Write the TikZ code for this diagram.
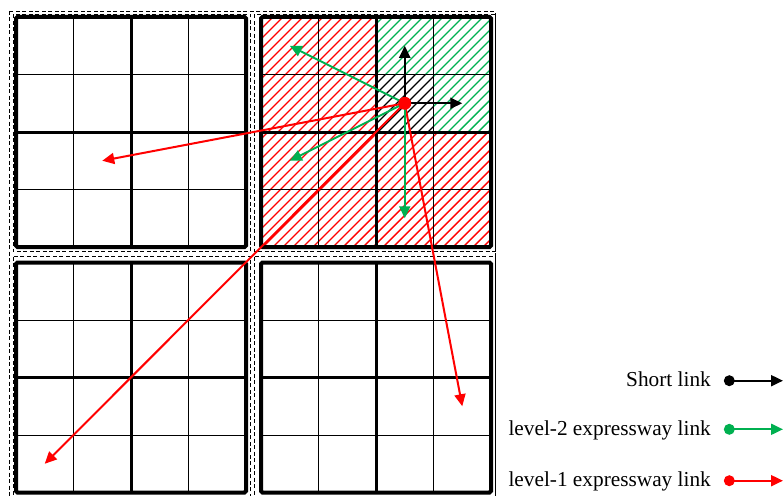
\documentclass[tikz,border=0pt]{standalone}
\usepackage{fontspec}
\setmainfont{Liberation Serif}
\usetikzlibrary{arrows.meta}
\definecolor{xgreen}{RGB}{0,176,80}
\definecolor{xred}{RGB}{255,0,0}
\newcommand\hatchregion[5]{%
  \begin{scope}
    \clip (#2,#3) rectangle (#4,#5);
    \foreach \c in {270,280,...,750} \draw[#1, line width=1.4pt] (\c,0) -- ++(-300,300);
  \end{scope}}
\begin{document}
\begin{tikzpicture}[x=1pt,y=-1pt,
  thingrid/.style={line width=1pt, black},
  midgrid/.style={line width=3pt, black},
  border/.style={line width=4pt, black, rounded corners=1.5pt},
  panelbox/.style={line width=0.8pt, black, dash pattern=on 4pt off 2.5pt},
  link/.style={line width=2pt, -{Triangle[length=12pt,width=11pt]}},
  dotstyle/.style={circle, inner sep=0pt, minimum size=#1},
  legtext/.style={anchor=base east, inner sep=0pt, font=\fontsize{21.3}{25}\selectfont}]
\useasboundingbox (0,0) rectangle (783,495);

% hatching in the top-right panel
\hatchregion{xred}{261}{17}{376}{132}
\hatchregion{xred}{261}{132}{491}{247}
\hatchregion{xgreen}{376}{17}{491}{74.5}
\hatchregion{xgreen}{433.5}{74.5}{491}{132}
\hatchregion{black}{376}{74.5}{433.5}{132}

% outer frame and panel frames
\draw[panelbox] (9.3,11) rectangle (495,499);
\draw[panelbox] (13.3,14.5) rectangle (250.7,251.5);
\draw[panelbox] (254.5,14.5) rectangle (495,251.5);
\draw[panelbox] (13.3,256.5) rectangle (250.7,499);
\draw[panelbox] (254.5,256.5) rectangle (495,499);

% panels
\foreach \ox/\oy in {16/17, 261/17, 16/262.5, 261/262.5} {
  \draw[thingrid] (\ox+57.5,\oy) -- (\ox+57.5,\oy+230)
                  (\ox+172.5,\oy) -- (\ox+172.5,\oy+230)
                  (\ox,\oy+57.5) -- (\ox+230,\oy+57.5)
                  (\ox,\oy+172.5) -- (\ox+230,\oy+172.5);
  \draw[midgrid] (\ox+115,\oy) -- (\ox+115,\oy+230)
                 (\ox,\oy+115) -- (\ox+230,\oy+115);
  \draw[border] (\ox,\oy) rectangle (\ox+230,\oy+230);
}

% link end points
\coordinate (oc) at (404.75,103.25);
\coordinate (bu) at (404.75,45.75);
\coordinate (br) at (462.25,103.25);
\coordinate (gul) at (289.75,45.75);
\coordinate (gdl) at (289.75,160.75);
\coordinate (gd) at (404.75,218.25);
\coordinate (rl) at (102.25,160.75);
\coordinate (rdl) at (44.75,463.75);
\coordinate (rdr) at (462.25,406.25);

\draw[link, xred] (oc) -- (rl);
\draw[link, xred] (oc) -- (rdl);
\draw[link, xred] (oc) -- (rdr);
\draw[link, xgreen] (oc) -- (gul);
\draw[link, xgreen] (oc) -- (gdl);
\draw[link, xgreen] (oc) -- (gd);
\draw[link, black] (oc) -- (bu);
\draw[link, black] (oc) -- (br);
\node[dotstyle=13pt, fill=xred] (o) at (oc) {};

% legend
\node[dotstyle=11pt, fill=black] (l1) at (729.3,380.7) {};
\coordinate (l1e) at (783,380.7);
\draw[link, black] (l1.center) -- (l1e);
\node[legtext] (t1) at (711,386.7) {Short link};

\node[dotstyle=11pt, fill=xgreen] (l2) at (729.3,429.3) {};
\coordinate (l2e) at (783,429.3);
\draw[link, xgreen] (l2.center) -- (l2e);
\node[legtext] (t2) at (711,435.3) {level-2 expressway link};

\node[dotstyle=11pt, fill=xred] (l3) at (729.3,480.7) {};
\coordinate (l3e) at (783,480.7);
\draw[link, xred] (l3.center) -- (l3e);
\node[legtext] (t3) at (711,486.7) {level-1 expressway link};
\end{tikzpicture}
\end{document}
